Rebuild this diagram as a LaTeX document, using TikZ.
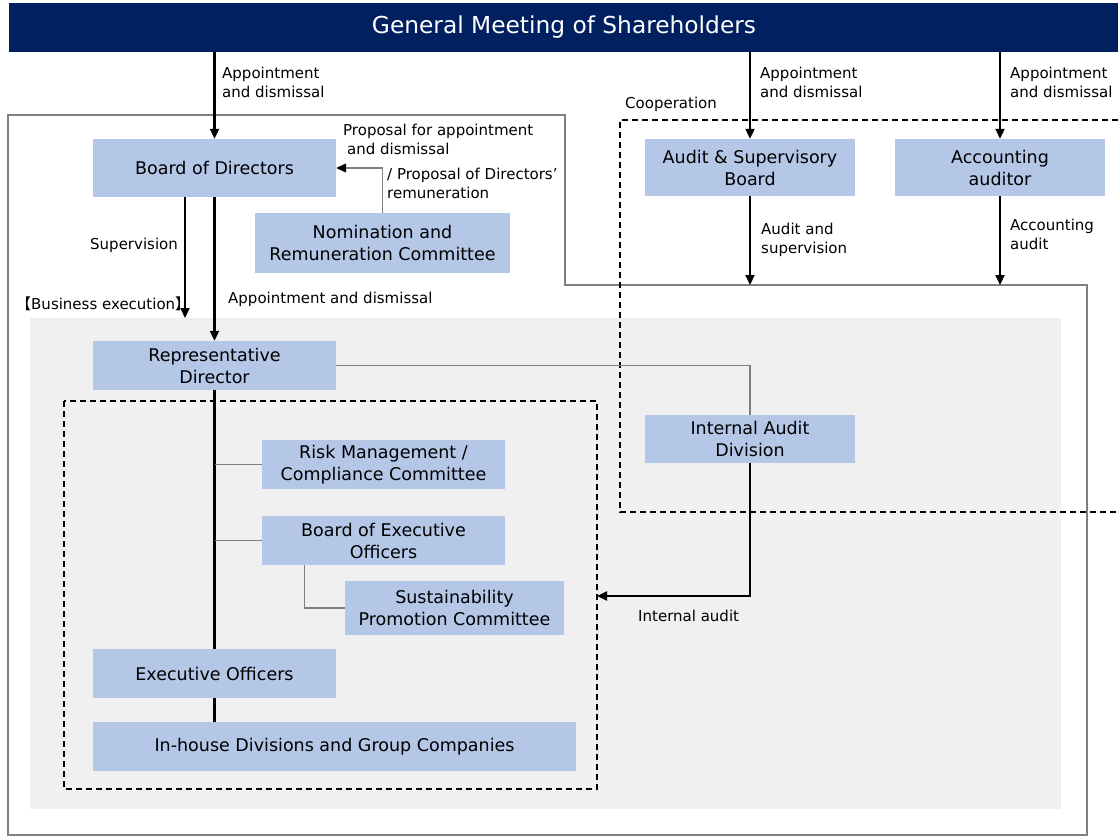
\documentclass[tikz,border=0pt]{standalone}
\usepackage{fontspec}
\setmainfont{DejaVu Sans}
\newfontfamily\cjkfont{Noto Sans CJK JP}
\usetikzlibrary{arrows.meta}
\definecolor{navy}{HTML}{002060}
\definecolor{boxblue}{HTML}{B4C7E7}
\definecolor{bggray}{HTML}{F0F0F0}
\definecolor{framegray}{HTML}{808080}
\begin{document}
\begin{tikzpicture}[x=1pt,y=-1pt,
  box/.style={fill=boxblue, draw=none, align=center, inner sep=0pt, font=\fontsize{17.5}{22}\selectfont},
  lbl/.style={align=left, inner sep=0pt, anchor=north west, font=\fontsize{15}{19}\selectfont},
  arr/.style={line width=2.1pt, -{Triangle[length=10pt,width=9pt]}},
  mainln/.style={line width=2.1pt},
  thinln/.style={draw=framegray, line width=1.2pt},
  dashbox/.style={line width=1.7pt, dash pattern=on 6pt off 4pt}
]
\useasboundingbox (0,0) rectangle (1118,837);
\fill[white] (0,0) rectangle (1118,837);
% outer frame
\draw[thinln] (8,115) -- (565,115) -- (565,285) -- (1087,285) -- (1087,835) -- (8,835) -- cycle;
% gray execution area
\fill[bggray] (30,318) rectangle (1061,809);
% cooperation dashed region
\draw[dashbox] (1118,120) -- (620,120) -- (620,512) -- (1118,512);
% inner dashed region
\draw[dashbox] (64,401) rectangle (597,789);

% title
\node[fill=navy, text=white, minimum width=1110pt, minimum height=49pt, inner sep=0pt,
      font=\fontsize{23.3}{26}\selectfont] (gm) at (564,27.5) {General Meeting of Shareholders};

% boxes
\node[box, minimum width=243pt, minimum height=58pt] (bod) at (214.5,168) {Board of Directors};
\node[box, minimum width=255pt, minimum height=60pt] (nom) at (382.5,243) {Nomination and\\Remuneration Committee};
\node[box, minimum width=210pt, minimum height=57pt] (asb) at (750,167.5) {Audit \& Supervisory\\Board};
\node[box, minimum width=210pt, minimum height=57pt] (acc) at (1000,167.5) {Accounting\\auditor};
\node[box, minimum width=243pt, minimum height=49pt] (rep) at (214.5,365.5) {Representative\\Director};
\node[box, minimum width=210pt, minimum height=48pt] (ia) at (750,439) {Internal Audit\\Division};
\node[box, minimum width=243pt, minimum height=49pt] (rm) at (383.5,464.5) {Risk Management /\\Compliance Committee};
\node[box, minimum width=243pt, minimum height=49pt] (boe) at (383.5,540.5) {Board of Executive\\Officers};
\node[box, minimum width=219pt, minimum height=54pt] (sus) at (454.5,608) {Sustainability\\Promotion Committee};
\node[box, minimum width=243pt, minimum height=49pt] (eo) at (214.5,673.5) {Executive Officers};
\node[box, minimum width=483pt, minimum height=49pt] (ih) at (334.5,746.5) {In-house Divisions and Group Companies};

% labels
\node[lbl] (l1) at (222,67) {Appointment\\and dismissal};
\node[lbl] (l2) at (760,67) {Appointment\\and dismissal};
\node[lbl] (l3) at (1010,67) {Appointment\\and dismissal};
\node[lbl] (lcoop) at (625,97) {Cooperation};
\node[lbl] (lprop1) at (343,124) {Proposal for appointment\\\hspace*{4pt}and dismissal};
\node[lbl] (lprop2) at (387,168) {/ Proposal of Directors'\\remuneration};
\node[lbl] (lsup) at (90,238) {Supervision};
\node[lbl] (lbe) at (16,297) {{\cjkfont 【}Business execution{\cjkfont 】}};
\node[lbl] (lapp) at (228,292) {Appointment and dismissal};
\node[lbl] (laud) at (761,223) {Audit and\\supervision};
\node[lbl] (lacc) at (1010,219) {Accounting\\audit};
\node[lbl] (lia) at (638,610) {Internal audit};

% coordinates
\coordinate (asbEnd) at (750,285);
\coordinate (accEnd) at (1000,285);
\coordinate (beEnd) at (185,318);
\coordinate (iaEnd) at (597,596);

% connectors
\draw[arr] (bod.north |- gm.south) -- (bod.north);
\draw[arr] (asb.north |- gm.south) -- (asb.north);
\draw[arr] (acc.north |- gm.south) -- (acc.north);
\draw[arr] (asb.south) -- (asbEnd);
\draw[arr] (acc.south) -- (accEnd);
\draw[arr] (bod.south -| beEnd) -- (beEnd);
\draw[arr] (bod.south) -- (rep.north);
\draw[thinln, -{Triangle[length=10pt,width=9pt,color=black]}] (nom.north) |- (bod.east);
\draw[thinln] (rep.east) -| (ia.north);
\draw[arr] (ia.south) |- (iaEnd);
\draw[mainln] (rep.south) -- (eo.north);
\draw[mainln] (eo.south) -- (eo.south |- ih.north);
\draw[thinln] (rm.west) -- (rm.west -| rep.south);
\draw[thinln] (boe.west) -- (boe.west -| rep.south);
\draw[thinln] (boe.south west) ++(43,0) |- (sus.west);
\end{tikzpicture}
\end{document}
